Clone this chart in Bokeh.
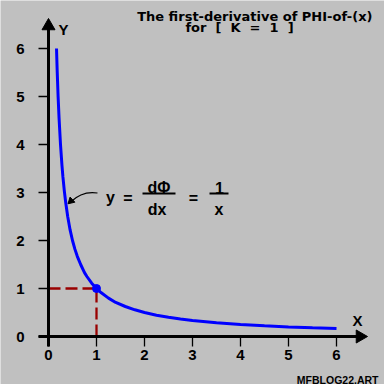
import math
from bokeh.plotting import figure
from bokeh.models import Range1d
from bokeh.core.properties import value
from bokeh.embed import file_html
from bokeh.resources import INLINE

# ---------------- data ----------------
X_TICKS = [0, 1, 2, 3, 4, 5, 6]
X_TICK_LABELS = ["0", "1", "2", "3", "4", "5", "6"]
Y_TICKS = [0, 1, 2, 3, 4, 5, 6]
Y_TICK_LABELS = ["0", "1", "2", "3", "4", "5", "6"]

# curve y = 1/x
CURVE_X = [0.167, 0.18, 0.2, 0.22, 0.25, 0.28, 0.3, 0.33, 0.36, 0.4, 0.45, 0.5,
           0.55, 0.6, 0.67, 0.75, 0.8, 0.9, 1.0, 1.1, 1.25, 1.4, 1.6, 1.8, 2.0,
           2.25, 2.5, 2.75, 3.0, 3.5, 4.0, 4.5, 5.0, 5.5, 6.0]
CURVE_Y = [6.0, 5.56, 5.0, 4.55, 4.0, 3.57, 3.33, 3.03, 2.78, 2.5, 2.22, 2.0,
           1.82, 1.67, 1.5, 1.33, 1.25, 1.11, 1.0, 0.91, 0.8, 0.71, 0.625, 0.556, 0.5,
           0.444, 0.4, 0.364, 0.333, 0.286, 0.25, 0.222, 0.2, 0.182, 0.167]

POINT_X = [1.0]
POINT_Y = [1.0]

NB = "\u00a0 "
TITLE_LINE1 = "The first-derivative of PHI-of-(x)"
TITLE_LINE2 = NB.join(["for", "[", "K", "=", "1", "]"])
X_LABEL = "X"
Y_LABEL = "Y"
WATERMARK = "MFBLOG22.ART"

# ---------------- layout helpers ----------------
W = H = 384
PX = 48.0          # pixels per unit
OX, OY = 48, 336   # pixel position of origin


def fx(px):
    return (px - OX) / PX


def fy(py):
    return (OY - py) / PX


BG = "#c0c0c0"
FONT = value("Liberation Sans")
TFONT = value("DejaVu Sans")

p = figure(width=W, height=H, x_range=Range1d(fx(0), fx(W)), y_range=Range1d(fy(H), fy(0)),
           output_backend="svg", toolbar_location=None,
           x_axis_location=None, y_axis_location=None, min_border=0)
p.grid.visible = False
p.outline_line_color = None
p.background_fill_color = BG
p.border_fill_color = BG

TICK = 10 / PX

# dashed guide lines to the marked point
p.segment(x0=[0, POINT_X[0]], y0=[POINT_Y[0], 0], x1=[POINT_X[0], POINT_X[0]], y1=[POINT_Y[0], POINT_Y[0]],
          line_color="#990000", line_width=2.3, line_dash="12 5")

# curve
p.line(CURVE_X, CURVE_Y, line_color="#0000ff", line_width=3)

# ticks
p.segment(x0=X_TICKS, y0=[0] * len(X_TICKS), x1=X_TICKS, y1=[-TICK] * len(X_TICKS),
          line_color="black", line_width=1.3)
p.segment(x0=[-TICK] * len(Y_TICKS), y0=Y_TICKS, x1=[0] * len(Y_TICKS), y1=Y_TICKS,
          line_color="black", line_width=1.3)

# axes with arrow heads
p.segment(x0=[0, -TICK], y0=[-TICK, 0], x1=[0, fx(358)], y1=[fy(27), 0],
          line_color="black", line_width=3)
p.scatter(x=[0], y=[fy(25.5)], marker="triangle", size=13,
          fill_color="black", line_color="black")
p.scatter(x=[fx(359.5)], y=[0], marker="triangle", size=13, angle=-math.pi / 2,
          fill_color="black", line_color="black")

# marked point
p.scatter(POINT_X, POINT_Y, size=8, color="#0000ff")

# tick labels
p.text(x=X_TICKS, y=[fy(349)] * len(X_TICKS), text=X_TICK_LABELS,
       text_font=FONT, text_font_style="bold", text_font_size="15px",
       text_align="center", text_baseline="top", text_color="black")
p.text(x=[fx(24)] * len(Y_TICKS), y=Y_TICKS, text=Y_TICK_LABELS,
       text_font=FONT, text_font_style="bold", text_font_size="15px",
       text_align="right", text_baseline="middle", text_color="black")

# axis names
p.text(x=[fx(63)], y=[fy(29)], text=[Y_LABEL], text_font=FONT, text_font_size="15px",
       text_font_style="bold", text_align="center", text_baseline="alphabetic")
p.text(x=[fx(357)], y=[fy(320)], text=[X_LABEL], text_font=FONT, text_font_size="15px",
       text_font_style="bold", text_align="center", text_baseline="alphabetic")

# title
p.text(x=[fx(372)], y=[fy(16)], text=[TITLE_LINE1], text_font=TFONT, text_font_size="13px",
       text_font_style="bold", text_align="right", text_baseline="alphabetic")
p.text(x=[fx(239)], y=[fy(27)], text=[TITLE_LINE2], text_font=TFONT, text_font_size="13px",
       text_font_style="bold", text_align="center", text_baseline="alphabetic")

# equation y = dPhi/dx = 1/x
EQ_SIZE = "16px"
eq_x = [fx(110), fx(127.5), fx(158.5), fx(156.5), fx(193), fx(219), fx(218.5)]
eq_y = [fy(197), fy(197.5), fy(187), fy(209), fy(197.5), fy(187), fy(209)]
eq_t = ["y", "=", "d\u03a6", "dx", "=", "1", "x"]
p.text(x=eq_x, y=eq_y, text=eq_t, text_font=FONT, text_font_size=EQ_SIZE,
       text_font_style="bold", text_align="center", text_baseline="alphabetic")
p.segment(x0=[fx(142), fx(209)], y0=[fy(193), fy(193)], x1=[fx(175), fx(228)], y1=[fy(193), fy(193)],
          line_color="black", line_width=2)

# pointer from equation to curve
p.quadratic(x0=[fx(97)], y0=[fy(192.5)], x1=[fx(70)], y1=[fy(201.5)], cx=[fx(82)], cy=[fy(190)],
            line_color="black", line_width=1.2)
p.scatter(x=[fx(70.5)], y=[fy(200.5)], marker="triangle", size=7,
          angle=math.radians(133), fill_color="black", line_color="black")

# watermark
p.text(x=[fx(378)], y=[fy(379)], text=[WATERMARK], text_font=FONT, text_font_size="10.5px",
       text_font_style="bold", text_align="right", text_baseline="alphabetic")

open("out.html", "w").write(file_html(p, INLINE))
